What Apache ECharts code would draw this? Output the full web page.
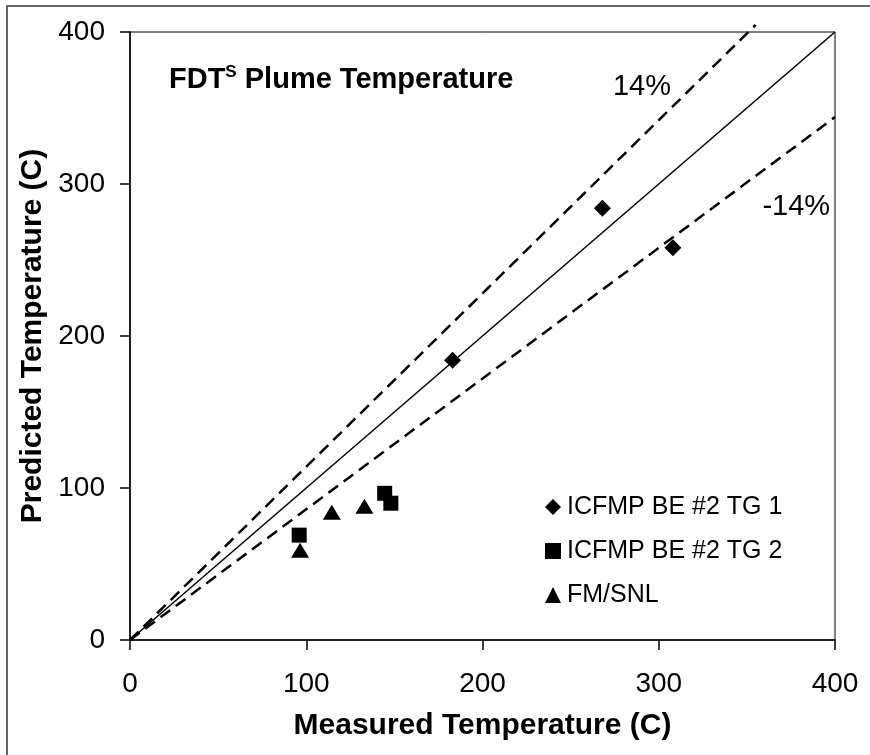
<!DOCTYPE html>
<html>
<head>
<meta charset="utf-8">
<script src="https://cdn.jsdelivr.net/npm/echarts@6/dist/echarts.min.js"></script>
<style>
html,body{margin:0;padding:0;background:#fff;}
#chart{width:870px;height:755px;}
</style>
</head>
<body>
<div id="chart"></div>
<script>
// ---- data ----
const axisTicks = [0, 100, 200, 300, 400];
const seriesNames = ['ICFMP BE #2 TG 1', 'ICFMP BE #2 TG 2', 'FM/SNL'];
const tg1Measured = [183, 268, 308];
const tg1Predicted = [184, 284, 258];
const tg2Measured = [96, 144.5, 148];
const tg2Predicted = [69, 96.5, 90];
const snlMeasured = [96.5, 114.5, 133];
const snlPredicted = [59, 84, 88];
const equalLineX = [0, 400];
const equalLineY = [0, 400];
const plusLineX = [0, 355];
const plusLineY = [0, 404.7];
const minusLineX = [0, 400];
const minusLineY = [0, 344];
const boundLabels = ['14%', '-14%'];
const boundLabelX = [290.5, 378];
const boundLabelY = [363.5, 285];

const FONT = '"Liberation Sans", Arial, sans-serif';
const pairs = (xs, ys) => xs.map((x, i) => [x, ys[i]]);

const chart = echarts.init(document.getElementById('chart'), null, {renderer: 'canvas'});

const option = {
  backgroundColor: '#ffffff',
  animation: false,
  textStyle: {fontFamily: FONT, color: '#000'},
  title: {
    left: 164,
    top: 59,
    text: '{a|FDT}{s|S}{a| Plume Temperature}',
    textStyle: {
      rich: {
        a: {fontFamily: FONT, fontSize: 29, fontWeight: 'bold', color: '#000', lineHeight: 32},
        s: {fontFamily: FONT, fontSize: 17, fontWeight: 'bold', color: '#000', lineHeight: 17, verticalAlign: 'top'}
      }
    }
  },
  grid: {
    left: 130, right: 35, top: 32, bottom: 115,
    show: true, borderColor: '#000', borderWidth: 1, backgroundColor: 'transparent'
  },
  legend: {
    orient: 'vertical',
    left: 540,
    top: 489,
    itemWidth: 16,
    itemHeight: 16,
    itemGap: 18,
    data: seriesNames,
    textStyle: {fontFamily: FONT, fontSize: 25, color: '#000', lineHeight: 26, padding: [0, 0, 0, 1]}
  },
  xAxis: {
    type: 'value', min: 0, max: 400, interval: 100,
    name: 'Measured Temperature (C)',
    nameLocation: 'middle',
    nameGap: 71,
    nameTextStyle: {fontFamily: FONT, fontSize: 30, fontWeight: 'bold', color: '#000'},
    axisLine: {show: true, lineStyle: {color: '#000', width: 1.5}},
    axisTick: {show: true, inside: false, length: 10, lineStyle: {color: '#000', width: 1.5}},
    axisLabel: {fontFamily: FONT, fontSize: 28, color: '#000', margin: 30,
      formatter: v => axisTicks.includes(v) ? String(v) : ''},
    splitLine: {show: false}
  },
  yAxis: {
    type: 'value', min: 0, max: 400, interval: 100,
    name: 'Predicted Temperature (C)',
    nameLocation: 'middle',
    nameGap: 82,
    nameTextStyle: {fontFamily: FONT, fontSize: 30, fontWeight: 'bold', color: '#000'},
    axisLine: {show: true, lineStyle: {color: '#000', width: 1.5}},
    axisTick: {show: true, inside: false, length: 10, lineStyle: {color: '#000', width: 1.5}},
    axisLabel: {fontFamily: FONT, fontSize: 28, color: '#000', margin: 25,
      formatter: v => axisTicks.includes(v) ? String(v) : ''},
    splitLine: {show: false}
  },
  series: [
    {
      name: 'equal', type: 'line', data: pairs(equalLineX, equalLineY),
      symbol: 'none', silent: true, lineStyle: {color: '#000', width: 1.5}, z: 2
    },
    {
      name: 'plus', type: 'line', data: pairs(plusLineX, plusLineY), clip: false,
      symbol: 'none', silent: true, lineStyle: {color: '#000', width: 2.5, type: [12, 7]}, z: 2
    },
    {
      name: 'minus', type: 'line', data: pairs(minusLineX, minusLineY),
      symbol: 'none', silent: true, lineStyle: {color: '#000', width: 2.5, type: [12, 7]}, z: 2
    },
    {
      name: seriesNames[0], type: 'scatter', data: pairs(tg1Measured, tg1Predicted),
      symbol: 'diamond', symbolSize: 17, itemStyle: {color: '#000', opacity: 1}, z: 5
    },
    {
      name: seriesNames[1], type: 'scatter', data: pairs(tg2Measured, tg2Predicted),
      symbol: 'rect', symbolSize: 15, itemStyle: {color: '#000', opacity: 1}, z: 5
    },
    {
      name: seriesNames[2], type: 'scatter', data: pairs(snlMeasured, snlPredicted),
      symbol: 'triangle', symbolSize: [18, 15], itemStyle: {color: '#000', opacity: 1}, z: 5
    }
  ]
};

chart.setOption(option);

const graphics = [
  {
    type: 'rect', silent: true, z: 0,
    shape: {x: 7, y: 6, width: 900, height: 800},
    style: {fill: 'none', stroke: '#333', lineWidth: 1.5}
  }
];
boundLabels.forEach((t, i) => {
  const p = chart.convertToPixel({gridIndex: 0}, [boundLabelX[i], boundLabelY[i]]);
  graphics.push({
    type: 'text', silent: true, z: 10,
    x: p[0], y: p[1],
    style: {text: t, fontFamily: FONT, fontSize: 29, fill: '#000', align: 'center', verticalAlign: 'middle'}
  });
});
chart.setOption({graphic: graphics});
</script>
</body>
</html>
